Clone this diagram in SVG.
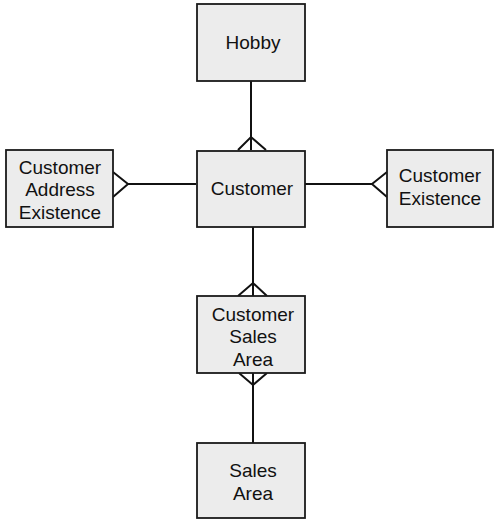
<svg xmlns="http://www.w3.org/2000/svg" width="500" height="524" viewBox="0 0 500 524">
<style>
.box{fill:#ececec;stroke:#1a1a1a;stroke-width:1.8}
.lbl{font-family:"Liberation Sans",Arial,sans-serif;font-size:19px;fill:#111;text-anchor:middle}
.conn{fill:none;stroke:#111;stroke-width:2}
</style>
<rect width="500" height="524" fill="#fff"/>
<g id="connectors">
<path class="conn" d="M251,81 V150"/>
<path class="conn" d="M238,150 L251,137 L266,150"/>
<path class="conn" d="M128,184 H196"/>
<path class="conn" d="M113,172 L128,184 L113,197"/>
<path class="conn" d="M305,184 H372"/>
<path class="conn" d="M387,172 L372,184 L387,197"/>
<path class="conn" d="M253,227 V296"/>
<path class="conn" d="M238,296 L253,283 L267,296"/>
<path class="conn" d="M253,373 V443"/>
<path class="conn" d="M239,373 L253,385 L267,373"/>
</g>
<g id="hobby">
<rect class="box" x="197" y="4" width="108" height="77"/>
<text class="lbl" x="253" y="49">Hobby</text>
</g>
<g id="customer">
<rect class="box" x="197" y="151" width="108" height="76"/>
<text class="lbl" x="252" y="195">Customer</text>
</g>
<g id="customer-address-existence">
<rect class="box" x="6" y="150" width="107" height="77"/>
<text class="lbl" x="60" y="174">Customer</text>
<text class="lbl" x="60" y="196">Address</text>
<text class="lbl" x="60" y="219">Existence</text>
</g>
<g id="customer-existence">
<rect class="box" x="387" y="150" width="106" height="77"/>
<text class="lbl" x="440" y="182">Customer</text>
<text class="lbl" x="440" y="205">Existence</text>
</g>
<g id="customer-sales-area">
<rect class="box" x="197" y="296" width="108" height="77"/>
<text class="lbl" x="253" y="321">Customer</text>
<text class="lbl" x="253" y="343">Sales</text>
<text class="lbl" x="253" y="366">Area</text>
</g>
<g id="sales-area">
<rect class="box" x="197" y="443" width="108" height="75"/>
<text class="lbl" x="253" y="477">Sales</text>
<text class="lbl" x="253" y="500">Area</text>
</g>
</svg>
